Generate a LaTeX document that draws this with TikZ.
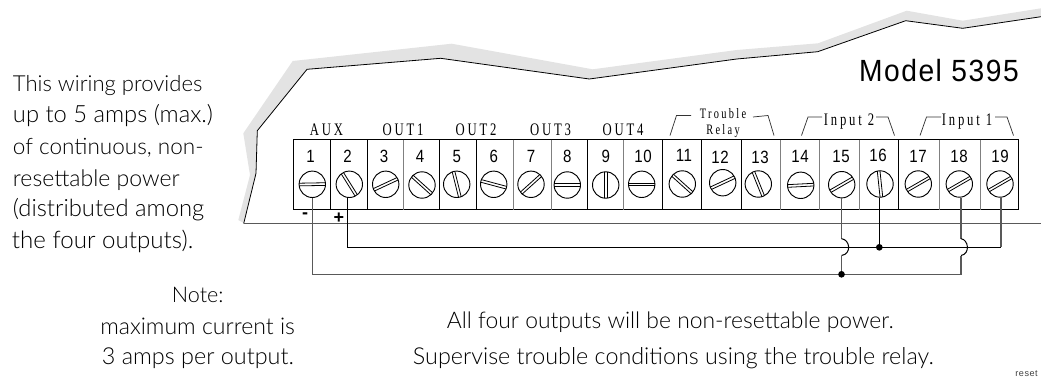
\documentclass[tikz,border=0pt]{standalone}
\usepackage{fontspec}
\usepackage{graphicx}
\usetikzlibrary{calc}
\setmainfont{Lato Light}
\newfontfamily\numfont[FakeStretch=0.85,LetterSpace=3]{Liberation Sans}
\newfontfamily\modelfont[FakeStretch=0.92,LetterSpace=5]{Liberation Sans}
\newfontfamily\lblfont[FakeStretch=0.72,LetterSpace=16]{Liberation Serif}
\newfontfamily\smallfont[LetterSpace=6]{Liberation Sans}
\newfontfamily\signfont{Liberation Sans}
\definecolor{casegray}{gray}{0.89}
\newcommand{\fitline}[2]{\resizebox{#1pt}{!}{#2}}
\tikzset{
  x=0.75pt,y=-0.75pt,
  hand/.style={inner sep=0,anchor=base west,font=\fontsize{15}{15}\selectfont,text=black},
  termnum/.style={inner sep=0,font=\numfont\fontsize{13.3}{13.3}\selectfont},
  lbl/.style={inner sep=0,anchor=base,font=\lblfont\fontsize{13.2}{14}\selectfont},
  lblsmall/.style={inner sep=0,anchor=base,font=\lblfont\fontsize{10.8}{11}\selectfont},
  box/.style={draw=black,line width=0.75pt},
  screwbody/.style={circle,draw=black,line width=0.7pt,minimum size=19.8pt,inner sep=0,fill=white},
  wire/.style={draw=black,line width=0.75pt},
  graywire/.style={draw=black!65,line width=0.85pt},
  brk/.style={draw=black!80,line width=0.55pt},
  junction/.style={circle,fill=black,inner sep=0,minimum size=5pt},
  sign/.style={inner sep=0,font=\signfont\bfseries\fontsize{13.5}{14}\selectfont},
}
\newcommand{\screw}[4]{%
  \node[screwbody] (s#1) at (#2,#3) {};
  \begin{scope}[shift={(s#1.center)},rotate=#4]
    \draw[line width=0.6pt] (-9.9pt,-1pt) -- (9.9pt,-1pt);
    \draw[line width=0.6pt] (-9.9pt,1pt) -- (9.9pt,1pt);
  \end{scope}
}
\begin{document}
\begin{tikzpicture}
\useasboundingbox (0,0) rectangle (1041,379);
% shaded case edge
\fill[casegray] (238.3,220) -- (250,175) -- (243.3,133.3) -- (292.7,61) -- (451.7,43.7) -- (592.7,69.3) -- (736.7,50) -- (818,43.3) -- (906.7,10.7) -- (962.7,20.7) -- (1041,8.3)
 -- (1041,16.7) -- (962.7,28.3) -- (905.7,20.7) -- (817.7,51.7) -- (736.7,59) -- (589.3,79) -- (440.7,58.3) -- (307,69.3) -- (257.3,130.7) -- (256,173.3) -- (243.7,223) -- cycle;
\draw[line width=0.6pt] (243.7,223.5) -- (256,173.3) -- (257.3,130.7) -- (307,69.3) -- (440.7,58.3) -- (589.3,79) -- (736.7,59) -- (817.7,51.7) -- (905.7,20.7) -- (962.7,28.3) -- (1041,16.7);
\draw[graywire] (243.7,223.5) -- (1041,223.5);
% block
\draw[box] (293.3,139.5) rectangle (1018,209.5);
\foreach \x/\c in {330.3/black,367.3/black,403.7/gray,439.3/black,476.3/black,513.7/gray,551/gray,587.3/black,623.3/gray,662.3/black,701.3/black,741/black,780.3/gray,819/gray,859/gray,898.3/black,939.3/gray,980.3/gray}
  \draw[line width=0.7pt,draw=\c] (\x,139.5) -- (\x,209.5);
\foreach \n/\x/\y in {1/310.5/156,2/347.5/156,3/384/156,4/420/156,5/456.7/156,6/493.7/156,7/531/156,8/567.3/156,9/605.7/156,10/643/156,11/684/155,12/720/157,13/760/157,14/800/156,15/841/156,16/878/155,17/918/156,18/959/156,19/1000/156}
  \node[termnum] (n\n) at (\x,\y) {\n};
\screw{1}{312.3}{184.3}{1}
\screw{2}{349.3}{184.3}{-58}
\screw{3}{385.7}{184.3}{25}
\screw{4}{422}{185}{-42}
\screw{5}{456.7}{184.3}{-76}
\screw{6}{493.7}{184.3}{-15}
\screw{7}{531}{184.3}{42}
\screw{8}{567.3}{185}{0}
\screw{9}{605.7}{185}{90}
\screw{10}{641.7}{184.3}{0}
\screw{11}{682.3}{184}{-42}
\screw{12}{722.7}{182.7}{25}
\screw{13}{758.3}{184}{-68}
\screw{14}{800.7}{185.3}{3}
\screw{15}{841.7}{184.7}{30}
\screw{16}{880}{184}{-84}
\screw{17}{918.3}{184}{30}
\screw{18}{959.3}{184}{30}
\screw{19}{1000}{184}{30}
% group labels
\node[lbl] (laux) at (326.5,135) {AUX};
\node[lbl] (lo1) at (403,135) {OUT1};
\node[lbl] (lo2) at (476,135) {OUT2};
\node[lbl] (lo3) at (550.5,135) {OUT3};
\node[lbl] (lo4) at (623,135) {OUT4};
\node[lblsmall] (ltr) at (723,118) {Trouble};
\node[lblsmall] (lrel) at (723,134) {Relay};
\node[lbl] (li2) at (849,125) {Input 2};
\node[lbl] (li1) at (967,125) {Input 1};
\draw[brk] (670,135.5) -- (676.5,115.5) -- (691,115.5);
\draw[brk] (753,117) -- (768,115.5) -- (774,135.5);
\draw[brk] (801.5,135.5) -- (808,117) -- (822,117);
\draw[brk] (876,117) -- (888,117) -- (894.5,135.5);
\draw[brk] (920,135.5) -- (926.5,117) -- (941,117);
\draw[brk] (995,117) -- (1007,117) -- (1013.5,135.5);
% model
\node[inner sep=0,anchor=base east,font=\modelfont\fontsize{23}{24}\selectfont] (model) at (1019,81.5) {Model 5395};
\node[sign] (minus) at (305,215.5) {-};
\node[sign] (plus) at (339,218.3) {+};
% wiring
\coordinate (wa) at (312.7,274.3);
\coordinate (wb) at (347.7,247.3);
\coordinate (j15) at (841.5,274.3);
\coordinate (j16) at (879.3,247.3);
\coordinate (w18) at (961,274.3);
\coordinate (w19) at (1001,247.3);
\coordinate (h15a) at (841.5,238.7);
\coordinate (h15b) at (841.5,255.5);
\coordinate (h18a) at (961,238.7);
\coordinate (h18b) at (961,255.5);
\draw[graywire] (wa |- s1.south) -- (wa) -- (j15) -- (w18) -- (h18b);
\draw[wire] (wb |- s2.south) -- (wb) -- (w19);
\draw[graywire] (w19 |- s19.south) -- (w19);
\draw[wire] (j16 |- s16.south) -- (j16);
\draw[graywire] (j15 |- s15.south) -- (h15a);
\draw[graywire] (h15b) -- (j15);
\draw[graywire] (w18 |- s18.south) -- (h18a);
\draw[wire] (h15a) .. controls (850,239.5) and (852,254) .. (h15b);
\draw[wire] (h18a) .. controls (968.5,239.5) and (970.5,254) .. (h18b);
\node[junction] (dot1) at (j15) {};
\node[junction] (dot2) at (j16) {};
% texts
\node[hand] (t1) at (12.7,91.7) {\fitline{142}{This wiring provides}};
\node[hand] (t2) at (12.7,122.7) {\fitline{150}{up to 5 amps (max.)}};
\node[hand] (t3) at (12.7,154) {\fitline{143}{of continuous, non-}};
\node[hand] (t4) at (12.7,186) {\fitline{125}{resettable power}};
\node[hand] (t5) at (12.7,216.7) {\fitline{143.5}{(distributed among}};
\node[hand] (t6) at (11.7,248) {\fitline{136}{the four outputs).}};
\node[hand] (n1) at (171.7,302) {\fitline{38.7}{Note:}};
\node[hand] (n2) at (100,334) {\fitline{146}{maximum current is}};
\node[hand] (n3) at (101.7,364) {\fitline{144}{3 amps per output.}};
\node[hand] (b1) at (446.7,328) {\fitline{335}{All four outputs will be non-resettable power.}};
\node[hand] (b2) at (412.7,364) {\fitline{390.5}{Supervise trouble conditions using the trouble relay.}};
\node[inner sep=0,anchor=base east,font=\smallfont\fontsize{6.8}{7}\selectfont,text=black!75] (rs) at (1038,376) {reset};
\end{tikzpicture}
\end{document}
